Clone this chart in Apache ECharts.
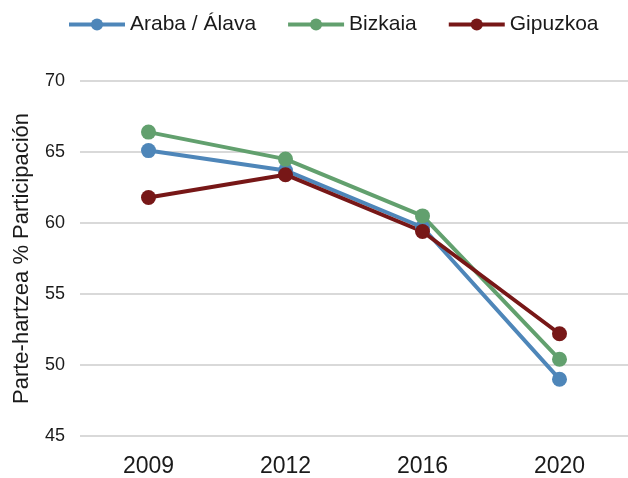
<!DOCTYPE html>
<html>
<head>
<meta charset="utf-8">
<script src="https://cdn.jsdelivr.net/npm/echarts@6/dist/echarts.min.js"></script>
<style>
  html, body { margin: 0; padding: 0; background: #fff; }
  #chart { width: 628px; height: 478px; }
</style>
</head>
<body>
<div id="chart"></div>
<script>
// urteak / años
const years = ['2009', '2012', '2016', '2020']
// parte-hartzea lurraldeka
const araba = [65.1, 63.7, 59.7, 49.0]
const bizkaia = [66.4, 64.5, 60.5, 50.4]
const gipuzkoa = [61.8, 63.4, 59.4, 52.2]
const seriesNames = ['Araba / Álava', 'Bizkaia', 'Gipuzkoa']
const colors = ['#4E86B9', '#62A06E', '#771717']

const font = '"Liberation Sans", Arial, sans-serif'

function makeLine(name, data, color) {
  return {
    name: name,
    type: 'line',
    data: data,
    symbol: 'circle',
    symbolSize: 15,
    color: color,
    lineStyle: { width: 4, color: color },
    itemStyle: { color: color },
    emphasis: { disabled: true }
  }
}

const chart = echarts.init(document.getElementById('chart'), null, { renderer: 'canvas' })
chart.setOption({
  animation: false,
  textStyle: { fontFamily: font },
  legend: {
    top: 9,
    left: 62,
    itemWidth: 56,
    itemHeight: 15,
    itemGap: 30,
    lineStyle: { width: 4 },
    textStyle: { fontSize: 21, color: '#1a1a1a', fontFamily: font },
    data: seriesNames
  },
  grid: {
    left: 80,
    top: 81,
    width: 553,
    height: 358
  },
  xAxis: {
    type: 'category',
    data: years,
    boundaryGap: true,
    axisLine: { show: false },
    axisTick: { show: false },
    axisLabel: { fontSize: 23, color: '#1a1a1a', margin: 19, fontFamily: font }
  },
  yAxis: {
    type: 'value',
    min: 45,
    max: 70,
    interval: 5,
    name: 'Parte-hartzea % Participación',
    nameLocation: 'middle',
    nameGap: 47,
    nameTextStyle: { fontSize: 22, color: '#1a1a1a', fontFamily: font },
    axisLine: { show: false },
    axisTick: { show: false },
    axisLabel: { fontSize: 18, color: '#1a1a1a', margin: 15, fontFamily: font },
    splitLine: { lineStyle: { color: '#D9D9D9', width: 2 } }
  },
  series: [
    makeLine(seriesNames[0], araba, colors[0]),
    makeLine(seriesNames[1], bizkaia, colors[1]),
    makeLine(seriesNames[2], gipuzkoa, colors[2])
  ]
})
</script>
</body>
</html>
